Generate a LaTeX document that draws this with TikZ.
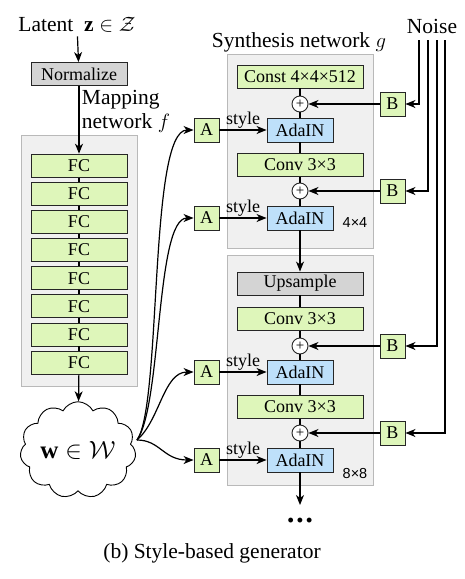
\documentclass[tikz,border=0pt]{standalone}
\usepackage{fontspec}
\setmainfont{Liberation Serif}
\newfontfamily\sizefont{Liberation Sans}
\usetikzlibrary{positioning}
\usetikzlibrary{calc}
\usetikzlibrary{arrows.meta}
\usetikzlibrary{shapes.symbols}
\usepackage{amsmath}
\definecolor{boxgreen}{RGB}{222,246,186}
\definecolor{boxblue}{RGB}{190,224,250}
\definecolor{blockgray}{RGB}{240,240,240}
\definecolor{blockline}{RGB}{185,185,185}
\definecolor{opgray}{RGB}{212,212,212}
\tikzset{
        every path/.style={line width=1.2pt},
        >={Stealth[length=10pt,width=8pt,inset=3pt]},
        basebox/.style={draw=black!85,line width=0.9pt,inner sep=0pt,minimum height=23},
        fcbox/.style={basebox,fill=boxgreen,minimum width=96},
        normbox/.style={basebox,fill=opgray,minimum width=96},
        widebox/.style={basebox,fill=boxgreen,minimum width=126},
        upbox/.style={basebox,fill=opgray,minimum width=126},
        adabox/.style={basebox,fill=boxblue,minimum width=66,minimum height=24},
        affbox/.style={basebox,fill=boxgreen,minimum width=25,minimum height=24},
        addnode/.style={circle,draw=black!85,line width=0.9pt,fill=white,inner sep=0pt,minimum size=16,font=\fontsize{15}{15}\selectfont},
        blockbg/.style={draw=blockline,fill=blockgray,line width=0.9pt,inner sep=0pt},
        titletext/.style={font=\fontsize{21.5}{24}\selectfont},
        restext/.style={font=\sizefont\fontsize{14.5}{15}\selectfont},
        }

\begin{document}
\begin{tikzpicture}[x=1pt,y=-1pt,font=\fontsize{18}{20}\selectfont]
			\useasboundingbox (0,0) rectangle (464,579);

			% background blocks
			\node [blockbg,minimum width=116,minimum height=251] (mapblock) at (79,260.5) {};
			\node [blockbg,minimum width=146,minimum height=194] (synblock1) at (300,151) {};
			\node [blockbg,minimum width=146,minimum height=230] (synblock2) at (300,370) {};

			% titles
			\node [titletext] (latent) at (77,25) {Latent\ \ $\mathbf{z}\in\mathcal{Z}$};
			\node [titletext] (syntitle) at (299,42) {Synthesis network $g$};
			\node [titletext] (noise) at (432,26) {Noise};
			\node [titletext,anchor=west,align=left] (maptitle) at (78,111) {Mapping\\network $f$};

			% mapping network
			\node [normbox] (norm) at (79,74) {Normalize};
			\foreach \i in {1,...,8}
				\node [fcbox] (fc\i) at (79,{137.5+28.14*\i}) {FC};
			\foreach \i [evaluate=\i as \j using int(\i+1)] in {1,...,7}
				\draw (fc\i) -- (fc\j);
			\draw [->] (latent) to (norm);
			\draw [->] (norm) to (fc1);

			% intermediate latent
			\node [cloud,cloud puffs=11,cloud puff arc=125,aspect=1.3,draw,fill=white,line width=0.9pt,minimum width=100,minimum height=76,inner sep=0pt,font=\fontsize{25}{25}\selectfont] (w) at (78,450) {$\mathbf{w}\in\mathcal{W}$};
			\draw [->] (fc8) to (w);
			\coordinate (wout) at (137,440);

			% synthesis network, 4x4
			\node [widebox] (const) at (300,76.5) {Const 4×4×512};
			\node [addnode] (add1) at (300,104) {+};
			\node [adabox] (ada1) at (300,130) {AdaIN};
			\node [widebox] (conv1) at (300,165) {Conv 3×3};
			\node [addnode] (add2) at (300,191) {+};
			\node [adabox] (ada2) at (300,218) {AdaIN};
			\node [restext] (res1) at (355,223) {4×4};

			% synthesis network, 8x8
			\node [upbox] (ups) at (300,283.5) {Upsample};
			\node [widebox] (conv2) at (300,319) {Conv 3×3};
			\node [addnode] (add3) at (300,346) {+};
			\node [adabox] (ada3) at (300,372) {AdaIN};
			\node [widebox] (conv3) at (300,407) {Conv 3×3};
			\node [addnode] (add4) at (300,433) {+};
			\node [adabox] (ada4) at (300,460) {AdaIN};
			\node [restext] (res2) at (355,474) {8×8};

			\draw (const) -- (add1) -- (ada1) -- (conv1) -- (add2) -- (ada2);
			\draw [->] (ada2) to (ups);
			\draw (ups) -- (conv2) -- (add3) -- (ada3) -- (conv3) -- (add4) -- (ada4);
			\coordinate (more) at (300,505);
			\draw [->] (ada4) to (more);
			\node (dots) at (300,522) {\textbf{•\hspace{3pt}•\hspace{3pt}•}};

			% styles A
			\foreach \y [count=\k] in {130,218,372,460} {
				\node [affbox] (A\k) at (206.5,\y) {A};
				\draw [->] (A\k) to node [midway,above,inner sep=1pt] {style} (ada\k);
			}
			\draw [->] (wout) .. controls +(25,-35) and +(-45,0) .. (A1.west);
			\draw [->] (wout) .. controls +(25,-35) and +(-38,0) .. (A2.west);
			\draw [->] (wout) .. controls +(23,-20) and +(-30,0) .. (A3.west);
			\draw [->] (wout) .. controls +(23,0) and +(-30,0) .. (A4.west);

			% noise B
			\foreach \y [count=\k] in {104,191,346,433} {
				\node [affbox] (B\k) at (392.5,\y) {B};
				\draw [->] (B\k) to (add\k);
			}
			\foreach \x [count=\k] in {419,428,437,445} {
				\coordinate (n\k) at (\x,40);
				\draw [->] (n\k) |- (B\k);
			}

			% caption
			\node [titletext] (caption) at (212,553) {(b) Style-based generator};
		\end{tikzpicture}
\end{document}
